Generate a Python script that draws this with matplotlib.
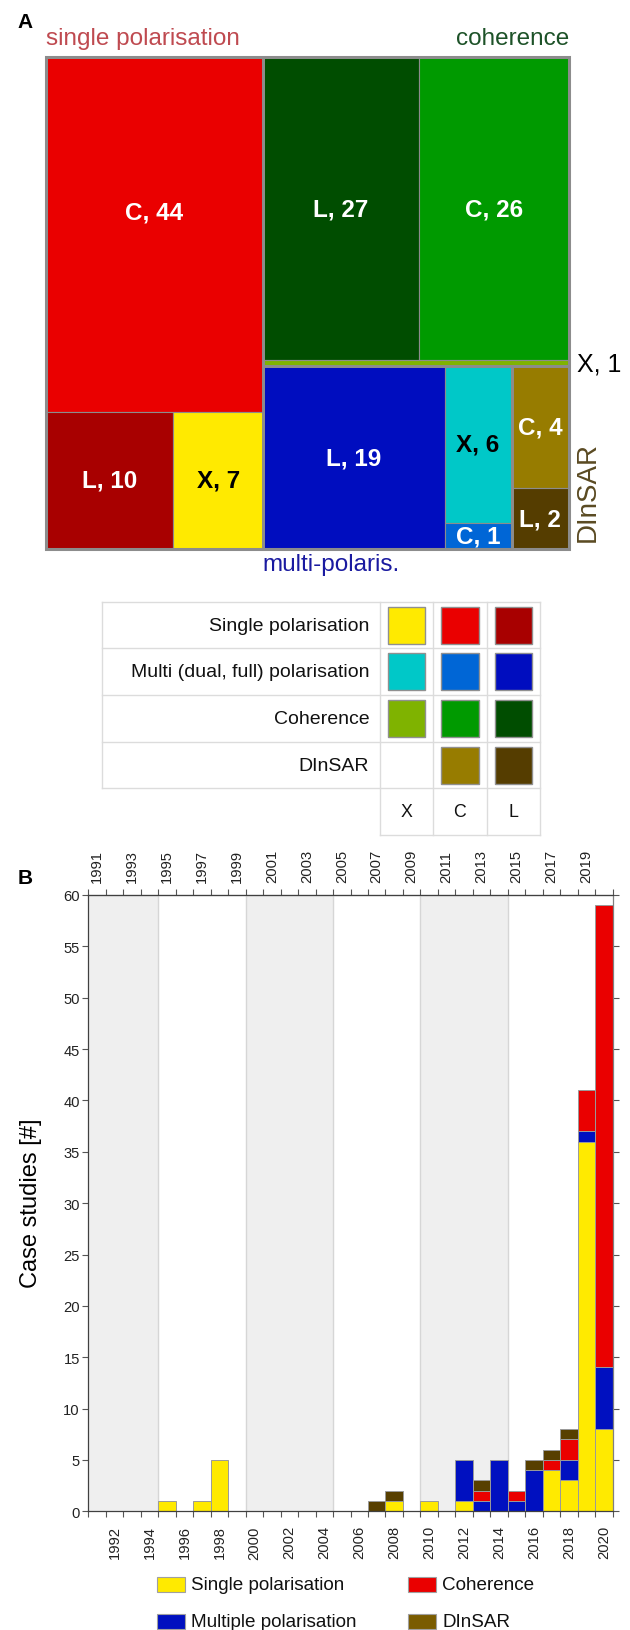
import numpy as np
import matplotlib
matplotlib.use("Agg")
import matplotlib.pyplot as plt
from matplotlib.patches import Rectangle
from matplotlib import font_manager as fm
from matplotlib.colors import to_rgb

# ---------------- data ----------------
# Treemap (panel A): case studies per method and band
single_bands = ["C", "L", "X"]
single_vals = [44, 10, 7]
coh_bands = ["L", "C", "X"]
coh_vals = [27, 26, 1]
multi_bands = ["L", "X", "C"]
multi_vals = [19, 6, 1]
dinsar_bands = ["C", "L"]
dinsar_vals = [4, 2]

# Legend table
table_rows = ["Single polarisation", "Multi (dual, full) polarisation", "Coherence", "DInSAR"]
table_keys = ["single", "multi", "coh", "dinsar"]
table_cols = ["X", "C", "L"]

# Bar chart (panel B)
years = list(range(1991, 2021))
bar_single = [0, 0, 0, 0, 1, 0, 1, 5, 0, 0, 0, 0, 0, 0, 0, 0, 0, 1, 0, 1, 0, 1, 0, 0, 0, 0, 4, 3, 36, 8]
bar_multi = [0, 0, 0, 0, 0, 0, 0, 0, 0, 0, 0, 0, 0, 0, 0, 0, 0, 0, 0, 0, 0, 4, 1, 5, 1, 4, 0, 2, 1, 6]
bar_coh = [0, 0, 0, 0, 0, 0, 0, 0, 0, 0, 0, 0, 0, 0, 0, 0, 0, 0, 0, 0, 0, 0, 1, 0, 1, 0, 1, 2, 4, 45]
bar_dinsar = [0, 0, 0, 0, 0, 0, 0, 0, 0, 0, 0, 0, 0, 0, 0, 0, 1, 1, 0, 0, 0, 0, 1, 0, 0, 1, 1, 1, 0, 0]
bar_names = ["Single polarisation", "Multiple polarisation", "Coherence", "DInSAR"]
y_ticks = list(range(0, 61, 5))
shade_starts = [1990, 2000, 2010]

# ---------------- style ----------------
tm_colors = {
    "single": {"X": "#FFEA00", "C": "#EA0000", "L": "#A80000"},
    "multi": {"X": "#00C8C8", "C": "#0066D6", "L": "#000DBF"},
    "coh": {"X": "#7FB300", "C": "#009A00", "L": "#004D00"},
    "dinsar": {"C": "#977C00", "L": "#553D00"},
}
bar_colors = ["#FFEA00", "#0010C0", "#EA0000", "#573F00"]
legend_colors = ["#FFEA00", "#0010C0", "#EA0000", "#7A5C00"]

names = {f.name for f in fm.fontManager.ttflist}
HAS_NARROW = "Liberation Sans Narrow" in names
NARROW = "Liberation Sans Narrow" if HAS_NARROW else "Liberation Sans"
NS = 1.0 if HAS_NARROW else 0.85
REG = "Liberation Sans"
plt.rcParams["font.family"] = [REG, "DejaVu Sans"]

W, H = 630, 1631
fig = plt.figure(figsize=(W / 100, H / 100), dpi=100)


def fx(x):
    return x / W


def fy(y):
    return 1 - y / H


# overlay axes in pixel coordinates (for table, legend, annotations)
ov = fig.add_axes([0, 0, 1, 1])
ov.set_xlim(0, W)
ov.set_ylim(H, 0)
ov.axis("off")

# ---------------- treemap ----------------
TX0, TY0, TX1, TY1 = 45.7, 58.3, 569.0, 550.0
tm = fig.add_axes([fx(TX0), fy(TY1), (TX1 - TX0) / W, (TY1 - TY0) / H])
tm.set_xlim(0, 1)
tm.set_ylim(1, 0)
tm.axis("off")

val = {}
for g, bands, vals in [("single", single_bands, single_vals), ("coh", coh_bands, coh_vals),
                       ("multi", multi_bands, multi_vals), ("dinsar", dinsar_bands, dinsar_vals)]:
    for b, v in zip(bands, vals):
        val[(g, b)] = v

tree = ("h", [
    ("v", [("single", "C"), ("h", [("single", "L"), ("single", "X")])]),
    ("v", [
        ("v", [("h", [("coh", "L"), ("coh", "C")]), ("coh", "X")]),
        ("h", [
            ("h", [("multi", "L"), ("v", [("multi", "X"), ("multi", "C")])]),
            ("v", [("dinsar", "C"), ("dinsar", "L")]),
        ]),
    ]),
])


def is_leaf(n):
    return isinstance(n[1], str)


def total(n):
    return val[n] if is_leaf(n) else sum(total(c) for c in n[1])


def layout(n, x, y, w, h, out):
    if is_leaf(n):
        out.append((n, x, y, w, h))
        return
    o, kids = n
    T = total(n)
    pos = 0.0
    for k in kids:
        f = total(k) / T
        if o == "h":
            layout(k, x + pos * w, y, f * w, h, out)
        else:
            layout(k, x, y + pos * h, w, f * h, out)
        pos += f


rects = []
layout(tree, 0, 0, 1, 1, rects)
PW, PH = TX1 - TX0, TY1 - TY0
EDGE = "#8c8c8c"

groups = {}
strip_y = 365
for (g, b), x, y, w, h in rects:
    col = tm_colors[g][b]
    tm.add_patch(Rectangle((x, y), w, h, facecolor=col, edgecolor=EDGE, lw=0.8, zorder=2))
    x0, y0, x1, y1 = groups.get(g, (1, 1, 0, 0))
    groups[g] = (min(x0, x), min(y0, y), max(x1, x + w), max(y1, y + h))
    if h * PH >= 20:
        r, gg, bb = to_rgb(col)
        lum = 0.299 * r + 0.587 * gg + 0.114 * bb
        tcol = "black" if lum > 0.5 else "white"
        ty = y + min(h / 2, 155 / PH)
        tm.text(x + w / 2, ty, f"{b}, {val[(g, b)]}", ha="center", va="center",
                color=tcol, fontsize=17.5, fontweight="bold", family=NARROW, zorder=4)
    elif g == "coh":
        strip_y = TY0 + (y + h / 2) * PH

for g, (x0, y0, x1, y1) in groups.items():
    tm.add_patch(Rectangle((x0, y0), x1 - x0, y1 - y0, fill=False, edgecolor=EDGE,
                           lw=2.0, zorder=3, clip_on=False))
tm.add_patch(Rectangle((0, 0), 1, 1, fill=False, edgecolor=EDGE, lw=2.2, zorder=3, clip_on=False))

fig.text(fx(25), fy(22), "A", fontsize=15, fontweight="bold", ha="center", va="center", family=REG)
fig.text(fx(TX0), fy(45), "single polarisation", fontsize=17.5, color="#bf4a50", ha="left", va="baseline")
fig.text(fx(TX1), fy(45), "coherence", fontsize=17.5, color="#1d5228", ha="right", va="baseline")
mx0 = TX0 + groups["multi"][0] * PW
fig.text(fx(mx0), fy(565), "multi-polaris.", fontsize=17.5, color="#1a1aa0", ha="left", va="center")
fig.text(fx(577), fy(strip_y), "X, 1", fontsize=18, color="black", ha="left", va="center")
fig.text(fx(588), fy(542), "DInSAR", fontsize=20, color="#5a4a22", rotation=90, ha="center", va="bottom")

# ---------------- legend table ----------------
LX0, CX0, CW = 101.7, 380.0, 53.33
RY0, RH = 602.7, 46.67
LINE = "#dcdcdc"
XR = CX0 + 3 * CW
for i in range(5):
    ov.plot([LX0, XR], [RY0 + i * RH] * 2, color=LINE, lw=1)
ov.plot([CX0, XR], [RY0 + 5 * RH] * 2, color=LINE, lw=1)
ov.plot([LX0, LX0], [RY0, RY0 + 4 * RH], color=LINE, lw=1)
for j in range(4):
    ov.plot([CX0 + j * CW] * 2, [RY0, RY0 + 5 * RH], color=LINE, lw=1)

SW, SH = 37.5, 37.0
for i, (lab, key) in enumerate(zip(table_rows, table_keys)):
    cy = RY0 + (i + 0.5) * RH
    ov.text(369.3, cy, lab, ha="right", va="center", fontsize=16.5 * NS, family=NARROW, color="#111111")
    for j, band in enumerate(table_cols):
        col = tm_colors[key].get(band)
        if col is None:
            continue
        cx = CX0 + (j + 0.5) * CW
        ov.add_patch(Rectangle((cx - SW / 2, cy - SH / 2), SW, SH, facecolor=col,
                               edgecolor="#909090", lw=1))
for j, band in enumerate(table_cols):
    ov.text(CX0 + (j + 0.5) * CW, RY0 + 4.5 * RH, band, ha="center", va="center",
            fontsize=15 * NS, family=NARROW, color="#111111")

# ---------------- bar chart ----------------
BX0, BX1, BY0, BY1 = 88.3, 612.7, 896.0, 1512.3
ax = fig.add_axes([fx(BX0), fy(BY1), (BX1 - BX0) / W, (BY1 - BY0) / H])
xmin, xmax = years[0] - 0.5, years[-1] + 0.5
for s in shade_starts:
    a, b = max(s - 0.5, xmin), s + 4.5
    ax.axvspan(a, b, color="#efefef", lw=0, zorder=0)
    for e in (s - 0.5, s + 4.5):
        if xmin < e < xmax:
            ax.axvline(e, color="#d6d6d6", lw=1, zorder=0.5)

bottom = np.zeros(len(years))
for series, col in zip([bar_single, bar_multi, bar_coh, bar_dinsar], bar_colors):
    v = np.array(series, dtype=float)
    m = v > 0
    ax.bar(np.array(years)[m], v[m], width=1.0, bottom=bottom[m], color=col,
           edgecolor="#9a9a9a", lw=0.7, zorder=2)
    bottom += v

TICKFS = 12.5 * NS
ax.set_xlim(xmin, xmax)
ax.set_ylim(0, 60)
ax.set_yticks(y_ticks)
ax.set_yticklabels([str(t) for t in y_ticks], family=NARROW, fontsize=TICKFS, color="#222222")
ax.tick_params(axis="y", which="both", direction="out", length=4, width=0.8, color="#555555",
               right=True, labelright=False, pad=2)

edges = np.arange(xmin, xmax + 0.01, 1.0)
even = [y for y in years if y % 2 == 0]
odd = [y for y in years if y % 2 == 1]
ax.set_xticks(even)
ax.set_xticklabels([str(y) for y in even], rotation=90, family=NARROW, fontsize=TICKFS, color="#222222")
ax.set_xticks(edges, minor=True)
ax.tick_params(axis="x", which="major", length=0, pad=10)
ax.tick_params(axis="x", which="minor", length=4, width=0.8, color="#555555", direction="out")

sec = ax.secondary_xaxis("top")
sec.set_xticks(odd)
sec.set_xticklabels([str(y) for y in odd], rotation=90, family=NARROW, fontsize=TICKFS, color="#222222")
sec.set_xticks(edges, minor=True)
sec.tick_params(axis="x", which="major", length=0, pad=9)
sec.tick_params(axis="x", which="minor", length=4, width=0.8, color="#555555", direction="out")
sec.spines["top"].set_color("#404040")

for sp in ax.spines.values():
    sp.set_color("#404040")
    sp.set_linewidth(0.9)
ax.spines["right"].set_color("#808080")

fig.text(fx(31), fy(1203), "Case studies [#]", rotation=90, fontsize=17, ha="center", va="center")
fig.text(fx(25), fy(879), "B", fontsize=15, fontweight="bold", ha="center", va="center")

# ---------------- bar legend ----------------
leg_pos = [(157, 1578), (157, 1615), (408, 1578), (408, 1615)]
leg_order = [0, 1, 2, 3]
for (lx, ly), k in zip(leg_pos, leg_order):
    ov.add_patch(Rectangle((lx, ly), 28, 15, facecolor=legend_colors[k], edgecolor="#a0a0a0", lw=0.8))
    ov.text(lx + 34, ly + 7.5, bar_names[k], ha="left", va="center", fontsize=16 * NS,
            family=NARROW, color="#111111")

fig.savefig("out.png", dpi=100)
